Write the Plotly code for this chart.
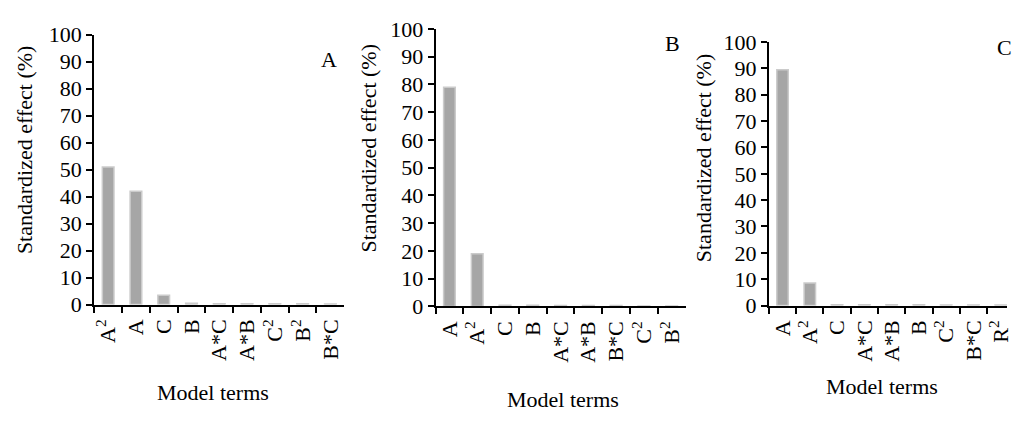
import plotly.graph_objects as go

W, H = 1013, 422

# ---- data ----
terms_A = ["A<sup>2</sup>", "A", "C", "B", "A*C", "A*B", "C<sup>2</sup>", "B<sup>2</sup>", "B*C"]
effect_A = [51, 42, 3.5, 0.5, 0.3, 0.3, 0.3, 0.3, 0.2]

terms_B = ["A", "A<sup>2</sup>", "C", "B", "A*C", "A*B", "B*C", "C<sup>2</sup>", "B<sup>2</sup>"]
effect_B = [79, 19, 0.4, 0.4, 0.3, 0.3, 0.3, 0.2, 0.2]

terms_C = ["A", "A<sup>2</sup>", "C", "A*C", "A*B", "B", "C<sup>2</sup>", "B*C", "R<sup>2</sup>"]
effect_C = [89.5, 8.5, 0.3, 0.3, 0.3, 0.3, 0.2, 0.2, 0.2]

panel_letters = ["A", "B", "C"]
y_title = "Standardized effect (%)"
x_title = "Model terms"

FONT = "Liberation Serif"

def px_x(x):
    return x / W

def px_y(y):
    return 1 - y / H

# panel geometry in pixels: (x_left, x_right, y_zero, y_hundred, xmax)
panels = [
    (93, 345, 311, 24, 8.5),
    (437, 689, 313, 18, 8.5),
    (773, 1013, 312, 32, 8.23),
]

fig = go.Figure()
data = [(terms_A, effect_A), (terms_B, effect_B), (terms_C, effect_C)]

for i, ((terms, vals), (xl, xr, y0, y100, xmax)) in enumerate(zip(data, panels)):
    n = "" if i == 0 else str(i + 1)
    fig.add_trace(go.Bar(
        x=terms, y=vals, xaxis="x" + n, yaxis="y" + n,
        width=0.42,
        marker=dict(color="#a6a6a6", line=dict(color="#cbcbcb", width=1.5)),
        showlegend=False,
    ))
    fig.layout["xaxis" + n] = dict(
        domain=[px_x(xl), px_x(xr)], anchor="y" + n,
        type="category", range=[-0.5, xmax],
        showline=True, linecolor="black", linewidth=2,
        ticks="outside", tickson="boundaries", ticklen=6, tickwidth=1.5, tickcolor="black",
        ticklabelstandoff=4,
        tickangle=-90, tickfont=dict(family=FONT, size=22, color="black"),
        showgrid=False, zeroline=False, fixedrange=True,
    )
    fig.layout["yaxis" + n] = dict(
        domain=[px_y(y0), px_y(y100)], anchor="x" + n,
        range=[0, 100], dtick=10,
        showline=True, linecolor="black", linewidth=2,
        ticks="outside", ticklen=6, tickwidth=1.5, tickcolor="black",
        tickfont=dict(family=FONT, size=22, color="black"),
        showgrid=False, zeroline=False, fixedrange=True,
    )

ann = []
ytitle_pos = [(22, 147), (369, 145), (707, 155)]
xtitle_pos = [(213, 404), (565, 412), (887, 398)]
letter_pos = [(330, 50), (676, 33), (1010, 38)]
for k in range(3):
    x, y = ytitle_pos[k]
    ann.append(dict(text=y_title, x=px_x(x), y=px_y(y), xref="paper", yref="paper",
                    textangle=-90, showarrow=False, xanchor="center", yanchor="middle",
                    font=dict(family=FONT, size=22, color="black")))
    x, y = xtitle_pos[k]
    ann.append(dict(text=x_title, x=px_x(x), y=px_y(y), xref="paper", yref="paper",
                    showarrow=False, xanchor="center", yanchor="middle",
                    font=dict(family=FONT, size=22, color="black")))
    x, y = letter_pos[k]
    ann.append(dict(text=panel_letters[k], x=px_x(x), y=px_y(y), xref="paper", yref="paper",
                    showarrow=False, xanchor="center", yanchor="middle",
                    font=dict(family=FONT, size=22, color="black")))

fig.update_layout(
    width=W, height=H,
    margin=dict(l=0, r=0, t=0, b=0),
    paper_bgcolor="white", plot_bgcolor="white",
    font=dict(family=FONT, color="black"),
    annotations=ann,
)

fig.write_html("out.html", config={"displayModeBar": False})
